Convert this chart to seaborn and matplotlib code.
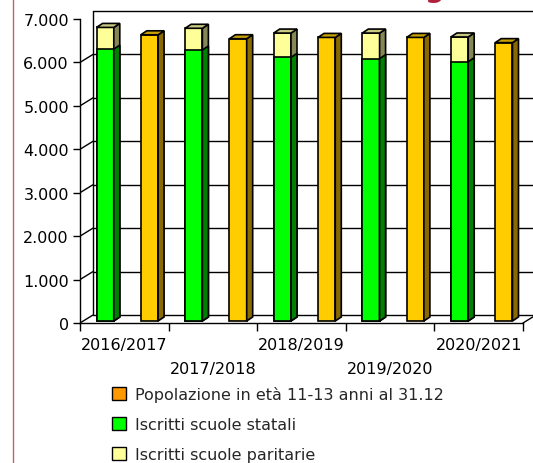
import matplotlib
matplotlib.use("Agg")
import matplotlib.pyplot as plt
import matplotlib.transforms as mtransforms
from matplotlib.patches import Polygon, Patch
import seaborn as sns
import pandas as pd

# anni scolastici e valori
anni = ["2016/2017", "2017/2018", "2018/2019", "2019/2020", "2020/2021"]
statali = [6260, 6240, 6070, 6040, 5970]
paritarie = [500, 500, 560, 590, 570]
popolazione = [6590, 6500, 6530, 6530, 6410]

etichette_legenda = ["Popolazione in età 11-13 anni al 31.12",
                     "Iscritti scuole statali",
                     "Iscritti scuole paritarie"]

sns.set_style("white")
plt.rcParams["font.family"] = ["DejaVu Sans"]

W, H = 533, 464
fig = plt.figure(figsize=(W / 100, H / 100), dpi=100)
ax = fig.add_axes([80 / W, 1 - 324 / H, (523 - 80) / W, (324 - 20) / H])

# 10 posizioni: per ogni anno prima gli iscritti poi la popolazione
slot = []
for a in anni:
    slot += [a + " iscritti", a + " pop"]
df = pd.DataFrame({
    "slot": slot,
    "totale": [v for s, p in zip(statali, paritarie) for v in (s + p, 0)],
    "statali": [v for s in statali for v in (s, 0)],
    "pop": [v for p in popolazione for v in (0, p)],
})

bw = 0.39
sns.barplot(data=df, x="slot", y="totale", order=slot, color="#FFFF99",
            width=bw, saturation=1, edgecolor="black", linewidth=1.2, ax=ax)
sns.barplot(data=df, x="slot", y="statali", order=slot, color="#00FF00",
            width=bw, saturation=1, edgecolor="black", linewidth=1.2, ax=ax)
sns.barplot(data=df, x="slot", y="pop", order=slot, color="#FFCC00",
            width=bw, saturation=1, edgecolor="black", linewidth=1.2, ax=ax)

ax.set_xlim(-0.5, 9.5)
ax.set_ylim(0, 7000)
ax.set_xlabel("")
ax.set_ylabel("")

# parete di fondo (spostata in profondità)
wall = ax.transData + mtransforms.Affine2D().translate(13, 8)
yt = list(range(0, 7001, 1000))
for y in yt:
    ax.plot([-0.5, 9.9], [y, y], color="black", lw=1, transform=wall,
            clip_on=False, zorder=0)
ax.plot([-0.5, -0.5], [0, 7000], color="black", lw=1, transform=wall,
        clip_on=False, zorder=0)

fig.canvas.draw()
tr = ax.transData
# diagonali della parete sinistra
for y in yt:
    x0, y0 = tr.transform((-0.5, y))
    ax.add_artist(plt.Line2D([x0, x0 + 13], [y0, y0 + 8], color="black",
                             lw=1, transform=None, zorder=0))
xr, yr = tr.transform((9.5, 0))
ax.add_artist(plt.Line2D([xr, xr + 13], [yr, yr + 8], color="black", lw=1,
                         transform=None, zorder=0, clip_on=False))

# effetto 3D sulle barre
lati = {"#FFFF99": ("#868656", "#C8C880"),
        "#00FF00": ("#008000", None),
        "#FFCC00": ("#8A6A00", "#C8A000")}
dxb, dyb = 3, 2
dx, dy = 6, 4
for p in list(ax.patches):
    if p.get_height() <= 0:
        p.set_visible(False)
        continue
    fc = matplotlib.colors.to_hex(p.get_facecolor()).upper()
    side, top = lati[fc]
    p.set_transform(tr + mtransforms.Affine2D().translate(dxb, dyb))
    (x0, y0) = tr.transform((p.get_x(), p.get_y()))
    (x1, y1) = tr.transform((p.get_x() + p.get_width(), p.get_y() + p.get_height()))
    x0, x1, y0, y1 = x0 + dxb, x1 + dxb, y0 + dyb, y1 + dyb
    ax.add_artist(Polygon([(x1, y0), (x1 + dx, y0 + dy), (x1 + dx, y1 + dy), (x1, y1)],
                          closed=True, facecolor=side, edgecolor="black",
                          lw=1.2, transform=None, zorder=p.get_zorder()))
    if top is not None:
        ax.add_artist(Polygon([(x0, y1), (x0 + dx, y1 + dy), (x1 + dx, y1 + dy), (x1, y1)],
                              closed=True, facecolor=top, edgecolor="black",
                              lw=1.2, transform=None, zorder=p.get_zorder()))

# assi
for s in ["top", "right"]:
    ax.spines[s].set_visible(False)
for s in ["left", "bottom"]:
    ax.spines[s].set_color("black")
    ax.spines[s].set_linewidth(1)
ax.set_yticks(yt)
ax.set_yticklabels([f"{v:,}".replace(",", ".") for v in yt])
ax.tick_params(axis="y", length=5, width=1, pad=3, labelsize=11.5,
               colors="black", left=True)
ax.set_xticks([0.5, 2.5, 4.5, 6.5, 8.5])
ax.set_xticklabels([a if i % 2 == 0 else "\n" + a for i, a in enumerate(anni)],
                   linespacing=1.75)
ax.set_xticks([i - 0.5 for i in range(11)], minor=True)
ax.tick_params(axis="x", which="major", length=0, pad=10, labelsize=11.5,
               colors="black")
ax.tick_params(axis="x", which="minor", length=6, width=1, colors="black",
               bottom=True)
ax.grid(False)

# legenda
handles = [Patch(facecolor="#FF9900", edgecolor="black"),
           Patch(facecolor="#00FF00", edgecolor="black"),
           Patch(facecolor="#FFFF99", edgecolor="black")]
fig.legend(handles, etichette_legenda, loc="upper left",
           bbox_to_anchor=(112 / W, 1 - 387 / H), frameon=False,
           fontsize=11.5, handlelength=0.85, handleheight=0.85,
           handletextpad=0.6, labelspacing=0.95, borderpad=0, borderaxespad=0)

# bordo rosso a sinistra e titolo tagliato
fig.add_artist(plt.Line2D([12.5 / W, 12.5 / W], [0, 1], color="#C8606C",
                          lw=1, transform=fig.transFigure))
fig.text(425 / W, 1 + 3 / H, "g", color="#B0203A", fontsize=20,
         fontweight="bold", va="baseline")

fig.savefig("out.png", dpi=100)
